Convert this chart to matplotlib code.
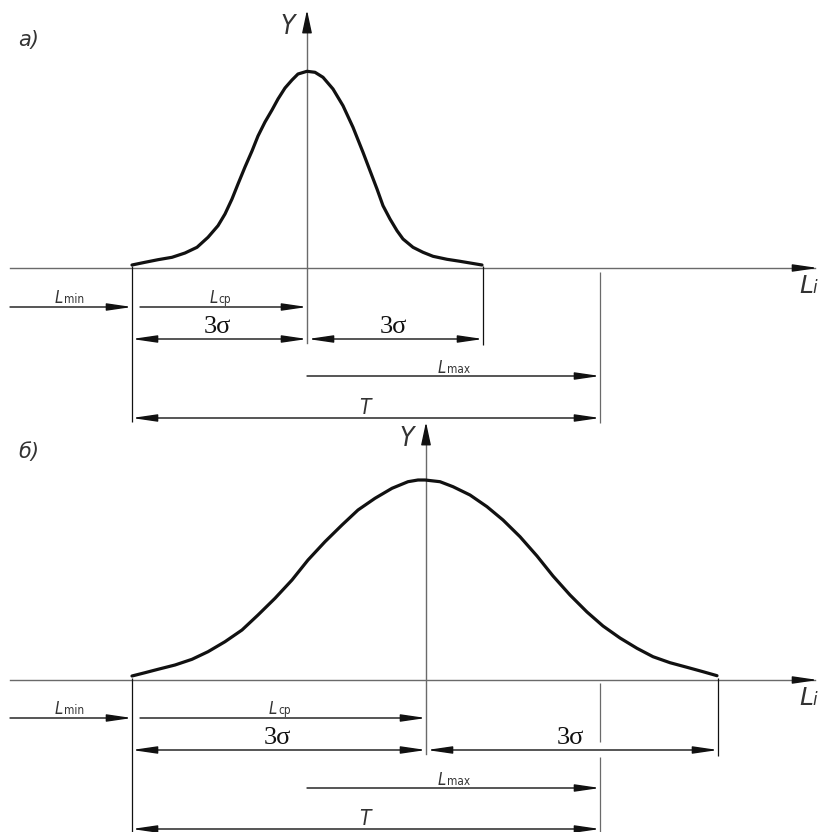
import matplotlib
matplotlib.use("Agg")
import matplotlib.pyplot as plt

# drawing units = pixels of the 820x832 sheet, y measured downwards
L_MIN_X = 132
L_MAX_X = 600
LCP_START = 140
LEFT_EDGE = 10
RIGHT_EDGE = 815

# panel a) narrow distribution (curve heights read above the base line)
a_base = 268
a_center = 307
a_right = 483
a_axis_top = 10
a_curve_x = [132, 145, 158, 172, 185, 197, 208, 218, 225, 232, 238, 245, 252, 258, 265, 272, 278,
             285, 292, 298, 307, 315, 323, 333, 343, 353, 363, 370, 377, 383, 390, 397, 403,
             413, 423, 433, 447, 460, 482]
a_curve_h = [3, 5.7, 8.3, 10.7, 15, 20.7, 30.7, 42.3, 54, 69, 84, 101, 117, 132, 146, 158, 169,
             180, 188, 194, 196.7, 195.7, 190.7, 179, 162.3, 140.7, 115.7, 97.3, 79, 62.3, 49, 37.3, 29,
             20.7, 15.7, 11.7, 8.7, 6.7, 3]

# panel b) wide distribution
b_base = 680
b_center = 426
b_right = 718
b_axis_top = 422
b_curve_x = [132, 145, 158, 175, 192, 208, 225, 242, 258, 275, 292, 308, 325, 342, 358, 375, 392,
             408, 418, 425, 440, 453, 470, 487, 503, 520, 537, 553, 570, 587, 603, 620, 637,
             653, 670, 687, 703, 717]
b_curve_h = [4, 7.3, 10.7, 15, 20.7, 28.3, 38.3, 50, 65, 81.7, 100, 120, 138.3, 155, 170, 181.7, 191.7,
             198.3, 200, 200, 198.3, 193.3, 185, 173.3, 160, 143.3, 124, 104, 85, 68, 54, 42, 31.7,
             23.3, 17.3, 12.7, 8.3, 4.3]

AX_GREY = "#6a6a6a"
INK = "#111111"
TXT = "#333333"


def arrow(ax, x0, x1, y, style="-|>", color=INK, lw=1.0):
    ax.annotate("", xy=(x1, y), xytext=(x0, y),
                arrowprops=dict(arrowstyle=style + ",head_length=1.5,head_width=0.22",
                                mutation_scale=10, color=color, lw=lw,
                                shrinkA=0, shrinkB=0))


def vline(ax, x, y0, y1, color=INK, lw=0.9):
    ax.plot([x, x], [y0, y1], color=color, lw=lw, solid_capstyle="butt")


def label_L(ax, x, y, sub):
    ax.text(x, y, "L", fontsize=12, style="oblique", color=TXT, ha="left", va="baseline",
            fontstretch="condensed")
    ax.text(x + 9, y, sub, fontsize=8.5, color=TXT, ha="left", va="baseline",
            fontstretch="condensed")


def sigma_label(ax, x, y):
    ax.text(x, y, "3σ", fontsize=19, family="Liberation Serif", color=INK,
            ha="center", va="baseline")


def panel(ax, base, center, right, axis_top, cx, ch, rows, letter, letter_y):
    lmin_y, s_y, lmax_y, t_y = rows
    # axes
    ax.plot([LEFT_EDGE, RIGHT_EDGE], [base, base], color=AX_GREY, lw=1.0)
    arrow(ax, RIGHT_EDGE - 18, RIGHT_EDGE + 3, base)
    ax.plot([center, center], [s_y + 4, axis_top + 16], color=AX_GREY, lw=1.0)
    ax.annotate("", xy=(center, axis_top), xytext=(center, axis_top + 22),
                arrowprops=dict(arrowstyle="-|>,head_length=1.4,head_width=0.3",
                                mutation_scale=10, color=INK, lw=1.0, shrinkA=0, shrinkB=0))
    ax.text(center - 19, axis_top + 24, "Y", fontsize=19, style="oblique", color=TXT,
            ha="center", va="baseline", fontstretch="condensed", fontweight="light")
    ax.text(799, base + 25, "L", fontsize=18, style="oblique", color=TXT,
            ha="left", va="baseline", fontweight="light")
    ax.text(812, base + 25, "i", fontsize=12, style="oblique", color=TXT,
            ha="left", va="baseline", fontweight="light")
    ax.text(18, letter_y, letter, fontsize=15, style="oblique", color=TXT,
            ha="left", va="baseline", fontweight="light")

    # distribution curve
    ax.plot(cx, [base - h for h in ch], color=INK, lw=2.3, solid_joinstyle="round",
            solid_capstyle="round")

    # extension lines
    vline(ax, L_MIN_X, base - 2, t_y + 4 if t_y < 820 else 832)
    vline(ax, right, base - 2, s_y + 6)
    if L_MAX_X < right:
        vline(ax, L_MAX_X, base + 3, s_y - 8, color=AX_GREY)
        vline(ax, L_MAX_X, s_y + 7, 832, color=AX_GREY)
    else:
        vline(ax, L_MAX_X, base + 4, t_y + 5, color=AX_GREY)

    # dimension lines
    arrow(ax, LEFT_EDGE, L_MIN_X, lmin_y)
    label_L(ax, 55, lmin_y - 4, "min")
    arrow(ax, LCP_START, center, lmin_y)
    label_L(ax, (LCP_START + center) / 2 - 14, lmin_y - 4, "cp")

    arrow(ax, L_MIN_X, center, s_y, style="<|-|>")
    arrow(ax, center + 1, right, s_y, style="<|-|>")
    sigma_label(ax, (L_MIN_X + center) / 2 - 2, s_y - 6)
    sigma_label(ax, (center + right) / 2 - 2, s_y - 6)

    arrow(ax, 307, L_MAX_X, lmax_y)
    label_L(ax, 438, lmax_y - 3, "max")

    arrow(ax, L_MIN_X, L_MAX_X, t_y, style="<|-|>")
    ax.text(365, t_y - 4, "T", fontsize=15, style="oblique", color=TXT, ha="center",
            va="baseline", fontstretch="condensed", fontweight="light")


fig = plt.figure(figsize=(8.2, 8.32), dpi=100)
ax = fig.add_axes([0, 0, 1, 1])
ax.set_xlim(0, 820)
ax.set_ylim(832, 0)
ax.axis("off")

panel(ax, a_base, a_center, a_right, a_axis_top, a_curve_x, a_curve_h,
      (307, 339, 376, 418), "a)", 46)
panel(ax, b_base, b_center, b_right, b_axis_top, b_curve_x, b_curve_h,
      (718, 750, 788, 829), "б)", 458)

fig.savefig("out.png", dpi=100, facecolor="white")
